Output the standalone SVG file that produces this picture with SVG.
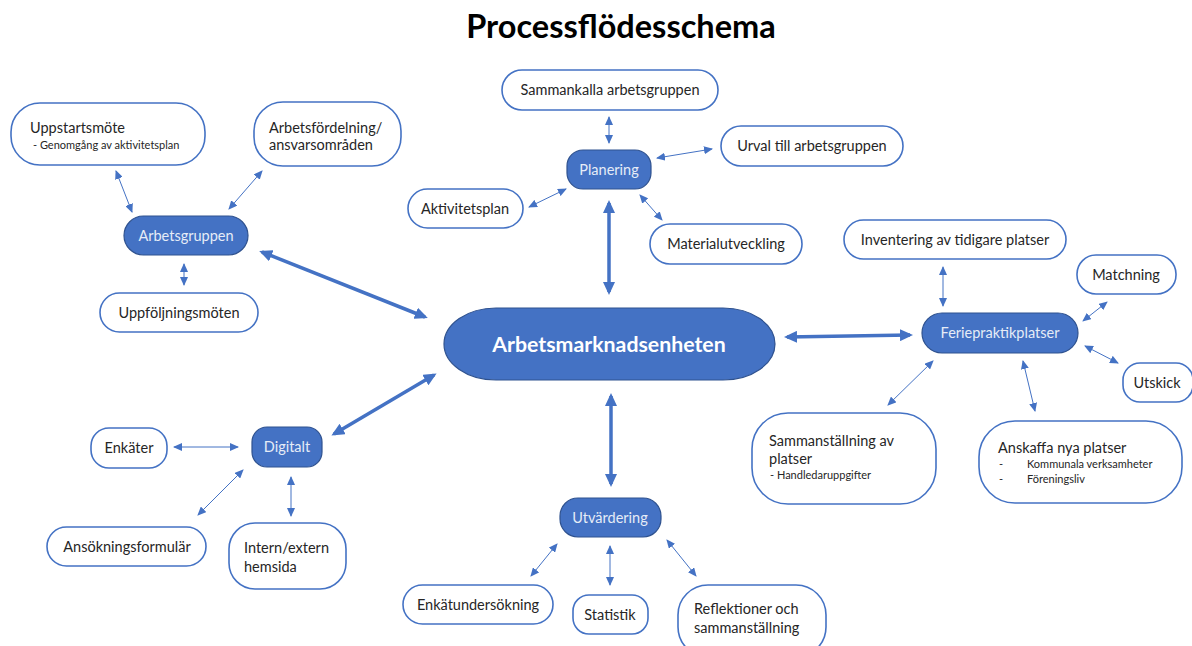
<svg xmlns="http://www.w3.org/2000/svg" width="1192" height="646" viewBox="0 0 1192 646">
<style>
  .hub { fill: #4472C4; stroke: #2F528F; stroke-width: 1.2; }
  .box { fill: #FFFFFF; stroke: #4472C4; stroke-width: 1.6; }
  .t { font-family: Lato, "Open Sans", "Liberation Sans", sans-serif; font-size: 14.5px; fill: #262626; }
  .ts { font-family: Lato, "Open Sans", "Liberation Sans", sans-serif; font-size: 11px; fill: #262626; }
  .th { font-family: Lato, "Open Sans", "Liberation Sans", sans-serif; font-size: 14.5px; fill: #E6ECF7; text-anchor: middle; }
  .c { text-anchor: middle; }
  .thin { stroke: #4472C4; stroke-width: 1; fill: none; marker-start: url(#sa); marker-end: url(#sa); }
  .thick { stroke: #4472C4; stroke-width: 3.5; fill: none; marker-start: url(#la); marker-end: url(#la); }
</style>
<defs>
  <marker id="sa" markerUnits="userSpaceOnUse" markerWidth="9" markerHeight="8" refX="8" refY="4" orient="auto-start-reverse">
    <path d="M0,0 L9,4 L0,8 z" fill="#4472C4"/>
  </marker>
  <marker id="la" markerUnits="userSpaceOnUse" markerWidth="13" markerHeight="12" refX="10" refY="6" orient="auto-start-reverse">
    <path d="M0,0 L13,6 L0,12 z" fill="#4472C4"/>
  </marker>
</defs>
<rect width="1192" height="646" fill="#FFFFFF"/>
<text x="621" y="38" text-anchor="middle" font-family="Lato, 'Open Sans', 'Liberation Sans', sans-serif" font-weight="bold" font-size="32.5" fill="#000000">Processflödesschema</text>

<g id="connectors">
  <!-- thick -->
  <line class="thick" x1="262" y1="252" x2="425" y2="317"/>
  <line class="thick" x1="609" y1="203" x2="609" y2="292"/>
  <line class="thick" x1="787" y1="337" x2="910" y2="335"/>
  <line class="thick" x1="611" y1="396" x2="611" y2="484"/>
  <line class="thick" x1="334" y1="434" x2="434" y2="375"/>
  <!-- Arbetsgruppen -->
  <line class="thin" x1="116" y1="171" x2="132" y2="212"/>
  <line class="thin" x1="262" y1="171" x2="229" y2="209"/>
  <line class="thin" x1="184" y1="264" x2="184" y2="285"/>
  <!-- Planering -->
  <line class="thin" x1="609" y1="117" x2="609" y2="143"/>
  <line class="thin" x1="657" y1="158" x2="712" y2="149"/>
  <line class="thin" x1="529" y1="207" x2="566" y2="189"/>
  <line class="thin" x1="640" y1="195" x2="662" y2="220"/>
  <!-- Feriepraktikplatser -->
  <line class="thin" x1="943" y1="267" x2="943" y2="306"/>
  <line class="thin" x1="1107" y1="302" x2="1083" y2="321"/>
  <line class="thin" x1="1085" y1="346" x2="1118" y2="363"/>
  <line class="thin" x1="933" y1="361" x2="888" y2="405"/>
  <line class="thin" x1="1023" y1="361" x2="1035" y2="411"/>
  <!-- Digitalt -->
  <line class="thin" x1="174" y1="447" x2="238" y2="447"/>
  <line class="thin" x1="198" y1="515" x2="243" y2="470"/>
  <line class="thin" x1="291" y1="477" x2="291" y2="516"/>
  <!-- Utvärdering -->
  <line class="thin" x1="531" y1="576" x2="557" y2="544"/>
  <line class="thin" x1="610" y1="546" x2="610" y2="585"/>
  <line class="thin" x1="667" y1="540" x2="696" y2="576"/>
</g>

<g id="arbetsmarknadsenheten">
  <rect class="hub" x="444" y="308" width="331" height="72" rx="52" ry="36"/>
  <text x="609" y="352" text-anchor="middle" font-family="Lato, 'Open Sans', 'Liberation Sans', sans-serif" font-weight="bold" font-size="21.3" fill="#FFFFFF">Arbetsmarknadsenheten</text>
</g>

<g id="arbetsgruppen">
  <rect class="hub" x="124" y="216" width="124" height="39" rx="19.5"/>
  <text class="th" x="186" y="240.5">Arbetsgruppen</text>
</g>
<g id="uppstartsmote">
  <rect class="box" x="11" y="103" width="194" height="62" rx="29"/>
  <text class="t" x="30" y="133">Uppstartsmöte</text>
  <text class="ts" x="33" y="149">- Genomgång av aktivitetsplan</text>
</g>
<g id="arbetsfordelning">
  <rect class="box" x="254" y="102" width="147" height="64" rx="29"/>
  <text class="t" x="269" y="133">Arbetsfördelning/</text>
  <text class="t" x="269" y="150">ansvarsområden</text>
</g>
<g id="uppfoljningsmoten">
  <rect class="box" x="100" y="293" width="158" height="39" rx="19.5"/>
  <text class="t c" x="179" y="318">Uppföljningsmöten</text>
</g>

<g id="planering">
  <rect class="hub" x="567" y="150" width="84" height="39" rx="16"/>
  <text class="th" x="609" y="174.5">Planering</text>
</g>
<g id="sammankalla">
  <rect class="box" x="502" y="70" width="216" height="40" rx="20"/>
  <text class="t c" x="610" y="95">Sammankalla arbetsgruppen</text>
</g>
<g id="urval">
  <rect class="box" x="721" y="126" width="182" height="40" rx="20"/>
  <text class="t c" x="812" y="151">Urval till arbetsgruppen</text>
</g>
<g id="aktivitetsplan">
  <rect class="box" x="408" y="189" width="115" height="39" rx="19.5"/>
  <text class="t c" x="465" y="214">Aktivitetsplan</text>
</g>
<g id="materialutveckling">
  <rect class="box" x="650" y="224" width="152" height="40" rx="20"/>
  <text class="t c" x="726" y="249">Materialutveckling</text>
</g>

<g id="feriepraktikplatser">
  <rect class="hub" x="922" y="313" width="156" height="40" rx="20"/>
  <text class="th" x="1000" y="338">Feriepraktikplatser</text>
</g>
<g id="inventering">
  <rect class="box" x="844" y="220" width="222" height="39" rx="19.5"/>
  <text class="t c" x="955" y="245">Inventering av tidigare platser</text>
</g>
<g id="matchning">
  <rect class="box" x="1077" y="255" width="99" height="39" rx="19"/>
  <text class="t c" x="1126" y="280">Matchning</text>
</g>
<g id="utskick">
  <rect class="box" x="1123" y="363" width="70" height="39" rx="17"/>
  <text class="t c" x="1157" y="388">Utskick</text>
</g>
<g id="sammanstallning">
  <rect class="box" x="752" y="413" width="184" height="91" rx="36"/>
  <text class="t" x="769" y="446">Sammanställning av</text>
  <text class="t" x="769" y="464">platser</text>
  <text class="ts" x="770" y="479">-  Handledaruppgifter</text>
</g>
<g id="anskaffa">
  <rect class="box" x="979" y="421" width="203" height="82" rx="36"/>
  <text class="t" x="998" y="453">Anskaffa nya platser</text>
  <text class="ts" x="999" y="468">-</text>
  <text class="ts" x="1027" y="468">Kommunala verksamheter</text>
  <text class="ts" x="999" y="483">-</text>
  <text class="ts" x="1027" y="483">Föreningsliv</text>
</g>

<g id="digitalt">
  <rect class="hub" x="252" y="427" width="70" height="40" rx="15"/>
  <text class="th" x="287" y="452">Digitalt</text>
</g>
<g id="enkater">
  <rect class="box" x="91" y="428" width="76" height="40" rx="18"/>
  <text class="t c" x="129" y="453">Enkäter</text>
</g>
<g id="ansokningsformular">
  <rect class="box" x="47" y="527" width="159" height="39" rx="19.5"/>
  <text class="t c" x="127" y="552">Ansökningsformulär</text>
</g>
<g id="hemsida">
  <rect class="box" x="229" y="523" width="117" height="66" rx="26"/>
  <text class="t" x="244" y="553">Intern/extern</text>
  <text class="t" x="244" y="572">hemsida</text>
</g>

<g id="utvardering">
  <rect class="hub" x="560" y="498" width="101" height="39" rx="18"/>
  <text class="th" x="610" y="522.5">Utvärdering</text>
</g>
<g id="enkatundersokning">
  <rect class="box" x="403" y="585" width="150" height="39" rx="19.5"/>
  <text class="t c" x="478" y="610">Enkätundersökning</text>
</g>
<g id="statistik">
  <rect class="box" x="573" y="595" width="75" height="39" rx="16"/>
  <text class="t c" x="610" y="620">Statistik</text>
</g>
<g id="reflektioner">
  <rect class="box" x="678" y="585" width="148" height="72" rx="30"/>
  <text class="t" x="694" y="614">Reflektioner och</text>
  <text class="t" x="694" y="633">sammanställning</text>
</g>
</svg>
